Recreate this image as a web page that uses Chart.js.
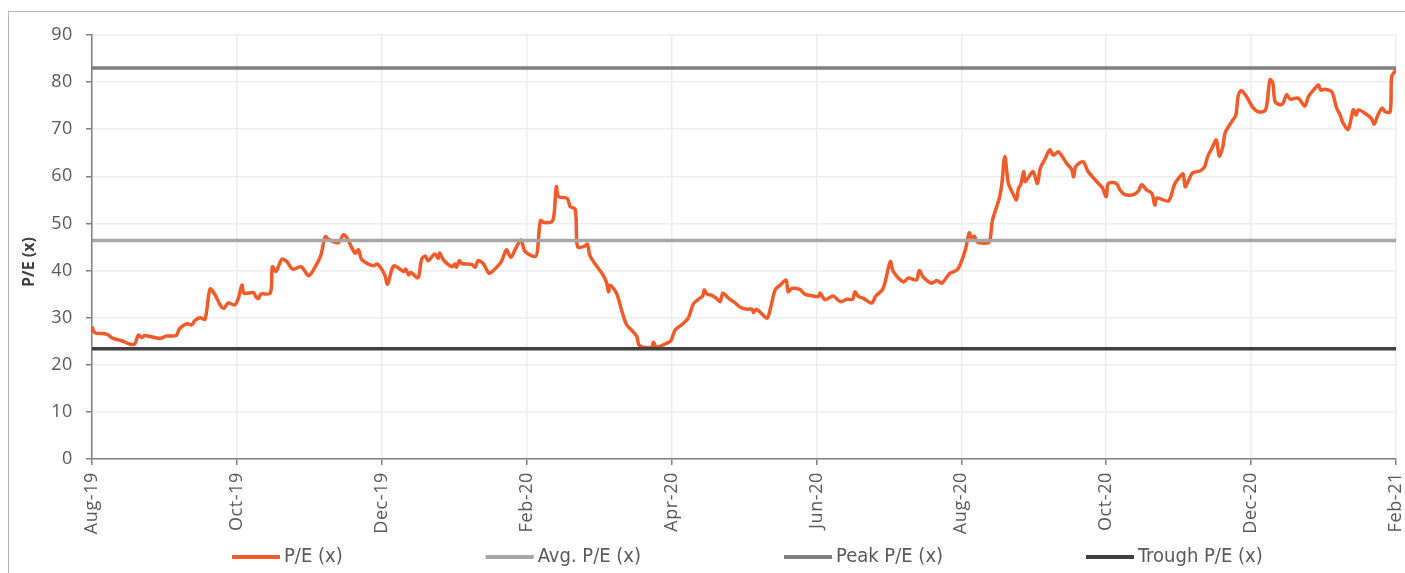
<!DOCTYPE html>
<html>
<head>
<meta charset="utf-8">
<script src="https://cdn.jsdelivr.net/npm/chart.js@4.4.0/dist/chart.umd.min.js"></script>
<style>
  html, body { margin: 0; padding: 0; background: #fff; }
  #wrap { position: relative; width: 1405px; height: 573px; overflow: hidden; }
  #frame { position: absolute; left: 8px; top: 11px; width: 1420px; height: 600px; border: 1px solid #b4b4b4; }
  canvas { position: absolute; left: 0; top: 0; }
</style>
</head>
<body>
<div id="wrap">
  <div id="frame"></div>
  <canvas id="peChart" width="1405" height="573"></canvas>
</div>
<script>
// x ticks every 2 months starting Aug-19
const tickLabels = ['Aug-19', 'Oct-19', 'Dec-19', 'Feb-20', 'Apr-20', 'Jun-20', 'Aug-20', 'Oct-20', 'Dec-20', 'Feb-21'];

// months elapsed since Aug-19
const peMonths = [
  0, 0.04, 0.20, 0.29, 0.41, 0.52, 0.59, 0.64, 0.69, 0.73, 0.94, 1.03, 1.16, 1.21, 1.31, 1.38, 1.42, 1.49, 1.56,
  1.63, 1.70, 1.77, 1.82, 1.88, 1.97, 2.02, 2.07, 2.10, 2.23, 2.26, 2.30, 2.33, 2.46, 2.49, 2.54, 2.62, 2.69,
  2.77, 2.89, 2.99, 3.10, 3.16, 3.22, 3.26, 3.40, 3.47, 3.52, 3.63, 3.68, 3.72, 3.88, 3.94, 4.04, 4.08, 4.14,
  4.18, 4.30, 4.33, 4.37, 4.40, 4.50, 4.55, 4.60, 4.64, 4.73, 4.78, 4.80, 4.85, 4.97, 5.01, 5.03, 5.07, 5.10,
  5.24, 5.29, 5.33, 5.40, 5.48, 5.54, 5.65, 5.72, 5.78, 5.84, 5.92, 5.98, 6.12, 6.15, 6.19, 6.24, 6.35, 6.38,
  6.41, 6.44, 6.56, 6.60, 6.67, 6.69, 6.71, 6.80, 6.84, 6.87, 6.94, 7.04, 7.10, 7.13, 7.15, 7.24, 7.31, 7.38,
  7.47, 7.52, 7.55, 7.61, 7.73, 7.75, 7.79, 7.91, 7.99, 8.05, 8.14, 8.23, 8.30, 8.37, 8.43, 8.45, 8.49, 8.55,
  8.62, 8.67, 8.71, 8.78, 8.88, 8.95, 9.04, 9.11, 9.13, 9.17, 9.24, 9.32, 9.37, 9.43, 9.50, 9.58, 9.61, 9.66,
  9.77, 9.84, 9.96, 10.03, 10.05, 10.12, 10.23, 10.33, 10.42, 10.50, 10.53, 10.58, 10.65, 10.76, 10.82, 10.92,
  11.02, 11.06, 11.20, 11.27, 11.38, 11.42, 11.47, 11.59, 11.66, 11.73, 11.84, 11.94, 12.00, 12.06, 12.11,
  12.14, 12.18, 12.22, 12.37, 12.40, 12.43, 12.49, 12.53, 12.56, 12.60, 12.65, 12.72, 12.76, 12.79, 12.82,
  12.86, 12.88, 12.92, 12.99, 13.05, 13.09, 13.15, 13.22, 13.27, 13.34, 13.41, 13.45, 13.52, 13.55, 13.58,
  13.68, 13.75, 13.91, 13.95, 14.00, 14.03, 14.14, 14.19, 14.26, 14.37, 14.44, 14.49, 14.56, 14.63, 14.67,
  14.70, 14.86, 14.94, 15.00, 15.06, 15.09, 15.13, 15.19, 15.30, 15.36, 15.40, 15.46, 15.52, 15.56, 15.61,
  15.64, 15.69, 15.75, 15.79, 15.82, 15.86, 15.92, 15.99, 16.02, 16.10, 16.19, 16.22, 16.26, 16.30, 16.33,
  16.40, 16.44, 16.49, 16.54, 16.65, 16.74, 16.79, 16.86, 16.93, 16.96, 17.02, 17.11, 17.14, 17.18, 17.23,
  17.26, 17.34, 17.41, 17.45, 17.48, 17.57, 17.66, 17.70, 17.75, 17.81, 17.85, 17.92, 17.94, 17.99, 18.0
];
const peValues = [
  28.1, 26.8, 26.5, 25.6, 25.1, 24.4, 24.4, 26.3, 25.8, 26.2, 25.6, 26.1, 26.2, 27.7, 28.7, 28.5, 29.4, 30.0, 29.7,
  36.1, 34.8, 32.7, 32.0, 33.1, 32.7, 34.1, 36.9, 35.2, 35.3, 34.5, 34.1, 35.0, 35.2, 40.8, 39.8, 42.4, 41.9,
  40.3, 40.8, 38.9, 41.3, 43.3, 47.2, 46.7, 45.9, 47.6, 46.9, 43.7, 44.4, 42.4, 41.0, 41.4, 39.1, 37.1, 40.3,
  41.0, 39.8, 40.3, 39.1, 39.6, 38.5, 42.4, 43.1, 42.1, 43.5, 42.6, 43.7, 42.3, 40.8, 41.4, 40.7, 42.1, 41.5,
  41.3, 40.7, 42.1, 41.5, 39.4, 40.0, 41.9, 44.4, 42.8, 44.4, 46.5, 44.0, 43.0, 44.4, 50.6, 50.2, 50.4, 52.2,
  57.8, 55.7, 55.3, 53.6, 53.0, 46.5, 44.9, 45.2, 45.6, 43.3, 41.5, 39.4, 37.6, 35.5, 36.9, 35.2, 31.6, 28.5,
  27.0, 26.0, 24.2, 23.7, 23.8, 24.8, 23.8, 24.4, 25.1, 27.4, 28.5, 29.9, 32.9, 33.9, 34.6, 35.9, 35.0, 34.8,
  34.1, 33.4, 35.2, 34.2, 33.1, 32.2, 31.8, 31.8, 31.1, 31.8, 30.9, 29.9, 32.3, 35.9, 36.9, 38.0, 35.5, 36.2,
  36.0, 35.0, 34.6, 34.5, 35.2, 33.8, 34.6, 33.4, 33.9, 33.9, 35.5, 34.5, 34.1, 33.1, 34.6, 36.2,
  41.9, 39.8, 37.6, 38.4, 38.0, 40.0, 38.7, 37.3, 37.9, 37.3, 39.4, 40.1, 41.9, 44.7, 48.0,
  46.9, 47.3, 46.1, 45.9, 46.9, 50.7, 53.6, 55.7, 58.5, 64.2, 58.5, 56.1, 55.0, 57.5, 58.2,
  61.0, 58.9, 59.6, 61.0, 58.5, 61.7, 63.5, 65.6, 64.5, 65.2, 63.8, 62.8, 61.5, 59.9, 62.1,
  63.1, 61.0, 58.2, 57.5, 55.7, 58.5, 58.5, 57.1, 56.1, 56.1, 56.8, 58.2, 57.1, 56.4, 53.9,
  55.4, 54.8, 58.2, 59.6, 60.5, 57.8, 58.9, 60.7, 61.2, 62.1, 64.2, 66.0, 67.7, 64.3, 66.3,
  69.2, 70.6, 72.0, 73.0, 76.9, 78.2, 77.3, 75.5, 74.7, 73.7, 73.9, 75.5, 80.5, 79.8, 75.9,
  75.2, 75.5, 77.3, 76.4, 76.6, 74.9, 76.9, 78.3, 79.4, 78.3, 78.5, 78.0, 76.9, 74.5, 73.0,
  71.6, 70.0, 74.1, 73.0, 74.1, 73.4, 72.3, 71.1, 73.0, 74.5, 73.7, 73.7, 81.2, 82.4, 83.0
];

const avgPE = 46.4;
const peakPE = 83.0;
const troughPE = 23.4;
const xMin = 0, xMax = 18;
const yTitle = 'P/E (x)';

const tickFont = { family: '"Open Sans", sans-serif', size: 18 };
const tickColor = '#595959';

function flat(v) {
  return [{ x: xMin, y: v }, { x: xMax, y: v }];
}

// a bit of letter spacing like the original axis text
const spacing = {
  id: 'spacing',
  beforeUpdate(chart) { chart.ctx.letterSpacing = '0.6px'; },
  beforeDraw(chart) { chart.ctx.letterSpacing = '0.6px'; }
};

// y title + legend drawn by hand
const extras = {
  id: 'extras',
  afterDraw(chart) {
    const ctx = chart.ctx;
    ctx.save();
    ctx.letterSpacing = '0px';

    // y axis title
    ctx.translate(29, 262);
    ctx.rotate(-Math.PI / 2);
    ctx.font = 'bold 16px "Open Sans", sans-serif';
    ctx.fillStyle = '#404040';
    ctx.textAlign = 'center';
    ctx.textBaseline = 'middle';
    ctx.fillText(yTitle, 0, 0);
    ctx.setTransform(1, 0, 0, 1, 0, 0);

    // legend
    ctx.font = '20px "Liberation Sans Narrow", "DejaVu Sans Condensed", sans-serif';
    ctx.textAlign = 'left';
    ctx.textBaseline = 'middle';
    let x = 232;
    const y = 557;
    chart.data.datasets.forEach(ds => {
      ctx.strokeStyle = ds.borderColor;
      ctx.lineWidth = 4;
      ctx.beginPath();
      ctx.moveTo(x, y);
      ctx.lineTo(x + 48, y);
      ctx.stroke();
      ctx.fillStyle = tickColor;
      ctx.fillText(ds.label, x + 52, y);
      x += 52 + ctx.measureText(ds.label).width + 143;
    });
    ctx.restore();
  }
};

const ctx = document.getElementById('peChart').getContext('2d');
new Chart(ctx, {
  type: 'line',
  data: {
    datasets: [
      {
        label: 'P/E (x)',
        data: peMonths.map((m, i) => ({ x: m, y: peValues[i] })),
        borderColor: '#F15A29',
        borderWidth: 3.5,
        pointRadius: 0,
        tension: 0.3,
        order: 1
      },
      { label: 'Avg. P/E (x)', data: flat(avgPE), borderColor: '#A6A6A6', borderWidth: 3.5, pointRadius: 0, order: 0 },
      { label: 'Peak P/E (x)', data: flat(peakPE), borderColor: '#7F7F7F', borderWidth: 3.5, pointRadius: 0, order: 0 },
      { label: 'Trough P/E (x)', data: flat(troughPE), borderColor: '#404040', borderWidth: 3.5, pointRadius: 0, order: 0 }
    ]
  },
  options: {
    responsive: false,
    animation: false,
    layout: { padding: { top: 35, right: 9, left: 0, bottom: 0 } },
    plugins: { legend: { display: false }, tooltip: { enabled: false } },
    scales: {
      x: {
        type: 'linear',
        min: xMin,
        max: xMax,
        afterFit: s => { s.height = 114; s.paddingLeft = 0; s.paddingRight = 0; },
        ticks: {
          stepSize: 2,
          autoSkip: false,
          maxRotation: 90,
          minRotation: 90,
          padding: 7,
          color: tickColor,
          font: tickFont,
          callback: v => tickLabels[v / 2]
        },
        grid: { color: '#EDEDED', lineWidth: 1.5, tickColor: '#808080', tickLength: 6 },
        border: { color: '#808080', width: 1.5 }
      },
      y: {
        min: 0,
        max: 90,
        afterFit: s => { s.width = 92; s.paddingTop = 0; s.paddingBottom = 0; },
        ticks: { stepSize: 10, padding: 13, color: tickColor, font: tickFont },
        grid: { color: '#EDEDED', lineWidth: 1.5, tickColor: '#808080', tickLength: 6 },
        border: { color: '#808080', width: 1.5 }
      }
    }
  },
  plugins: [spacing, extras]
});
</script>
</body>
</html>
